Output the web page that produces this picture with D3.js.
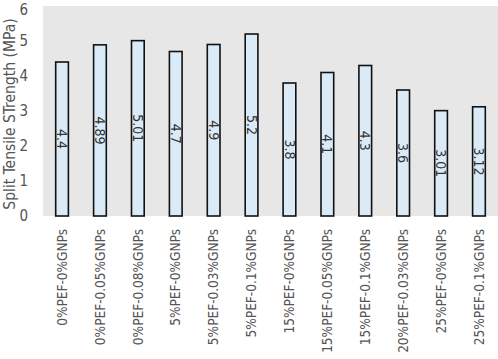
<!DOCTYPE html>
<html>
<head>
<meta charset="utf-8">
<script src="https://cdn.jsdelivr.net/npm/d3@7"></script>
<style>
  body { margin: 0; background: #fff; }
  text { font-family: "Liberation Sans Narrow", "DejaVu Sans Condensed", "Roboto", sans-serif; }
</style>
</head>
<body>
<script>
let width = 498
let height = 359

const margin = { top: 6, right: 0, bottom: 143, left: 43 };
let plotWidth = width - margin.left - margin.right;
let plotHeight = height - margin.top - margin.bottom;

// data
let mixes = ['0%PEF-0%GNPs', '0%PEF-0.05%GNPs', '0%PEF-0.08%GNPs', '5%PEF-0%GNPs',
    '5%PEF-0.03%GNPs', '5%PEF-0.1%GNPs', '15%PEF-0%GNPs', '15%PEF-0.05%GNPs',
    '15%PEF-0.1%GNPs', '20%PEF-0.03%GNPs', '25%PEF-0%GNPs', '25%PEF-0.1%GNPs']
let strength = [4.4, 4.89, 5.01, 4.7, 4.9, 5.2, 3.8, 4.1, 4.3, 3.6, 3.01, 3.12]
let yTicks = [0, 1, 2, 3, 4, 5, 6]
let yTitle = 'Split Tensile STrength (MPa)'

let svg = d3.select('body')
    .append('svg')
    .attr('width', width)
    .attr('height', height)

let plot = svg.append('g').attr('transform', `translate(${ margin.left },${ margin.top })`);

let x = d3.scaleBand().domain(mixes).range([0, plotWidth]).paddingInner(0.665).paddingOuter(0.335)
let y = d3.scaleLinear().domain([0, 6]).range([plotHeight, 0])

plot.append('rect')
    .attr('width', plotWidth)
    .attr('height', plotHeight)
    .attr('fill', '#e8e7e7')

plot.selectAll('rect.bar').data(strength)
    .join('rect')
    .attr('class', 'bar')
    .attr('x', (d, i) => x(mixes[i]))
    .attr('y', d => y(d))
    .attr('width', x.bandwidth())
    .attr('height', d => plotHeight - y(d))
    .attr('fill', '#dbeaf7')
    .attr('stroke', '#111')
    .attr('stroke-width', 1.6)

plot.selectAll('text.val').data(strength)
    .join('text')
    .attr('class', 'val')
    .attr('transform', (d, i) => `translate(${ x(mixes[i]) + x.bandwidth() / 2 },${ (y(d) + plotHeight) / 2 }) rotate(90)`)
    .attr('text-anchor', 'middle')
    .attr('dy', '0.35em')
    .attr('font-size', 14)
    .attr('fill', '#333')
    .text(d => d)

// y axis, no line or ticks
let yAxis = plot.append('g').call(d3.axisLeft(y).tickValues(yTicks).tickFormat(d3.format('d')).tickSize(0).tickPadding(15))
yAxis.select('.domain').remove()
yAxis.selectAll('text').attr('font-size', 15).attr('fill', '#555')
// keep the top label inside the page
yAxis.selectAll('text').filter(d => d === 6).attr('dy', '0.55em')

let xAxis = plot.append('g')
    .attr('transform', `translate(0,${ plotHeight })`)
    .call(d3.axisBottom(x).tickSize(0))
xAxis.select('.domain').remove()
xAxis.selectAll('text')
    .attr('font-size', 13.5)
    .attr('fill', '#555')
    .attr('transform', 'rotate(-90)')
    .attr('text-anchor', 'end')
    .attr('x', -13)
    .attr('y', 0)
    .attr('dy', '0.35em')

svg.append('text')
    .attr('transform', `translate(10,114) rotate(-90)`)
    .attr('text-anchor', 'middle')
    .attr('dy', '0.35em')
    .attr('font-size', 15.5)
    .attr('fill', '#555')
    .text(yTitle)
</script>
</body>
</html>
